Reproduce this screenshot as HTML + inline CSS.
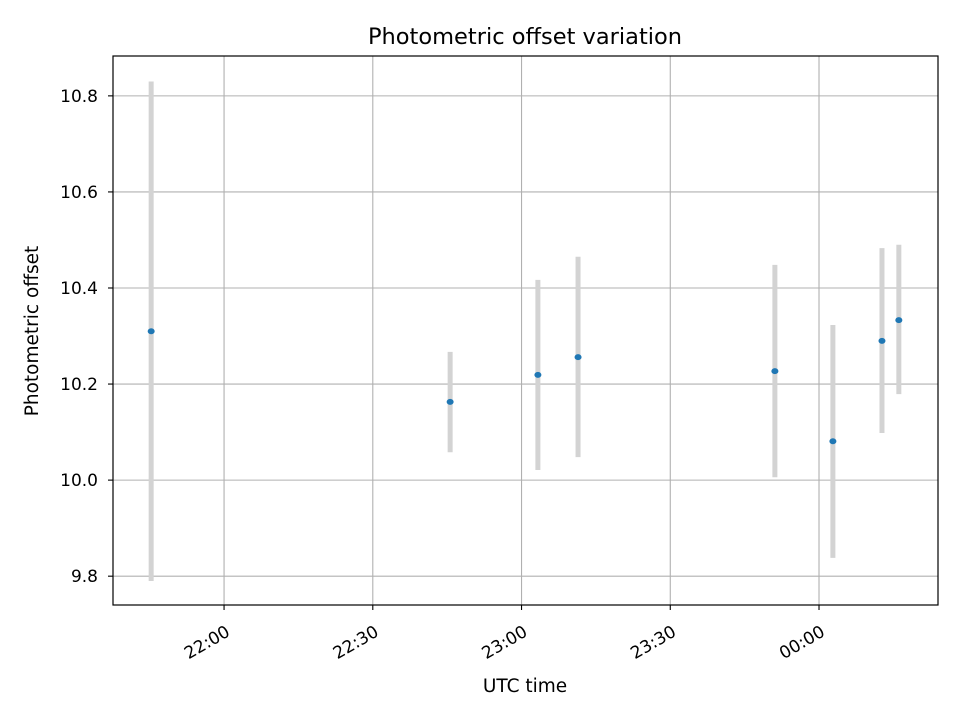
<!DOCTYPE html>
<html><head><meta charset="utf-8"><style>
body{margin:0;background:#fff;}
svg{display:block;font-family:"DejaVu Sans","Liberation Sans",sans-serif;}
</style></head><body>
<svg id="chart" width="960" height="720" viewBox="0 0 960 720">
<rect width="960" height="720" fill="#fff"/>
<text x="525" y="44" text-anchor="middle" font-size="22.5">Photometric offset variation</text>
<g id="grid"></g>
<g id="bars"></g>
<g id="points"></g>
<rect x="113" y="56" width="825" height="549" fill="none" stroke="#000" stroke-width="1.2"/>
<g id="xticks"></g>
<g id="yticks"></g>
<text x="525" y="692" text-anchor="middle" font-size="18.5">UTC time</text>
<text transform="translate(38,331) rotate(-90)" text-anchor="middle" font-size="18.5">Photometric offset</text>
</svg>
<script>
// minutes relative to 22:00 UTC
const times = [-14.7, 45.6, 63.3, 71.4, 111.1, 122.8, 132.7, 136.1];
const offsets = [10.31, 10.163, 10.219, 10.256, 10.227, 10.081, 10.29, 10.333];
const errLow = [9.79, 10.058, 10.021, 10.048, 10.006, 9.838, 10.098, 10.179];
const errHigh = [10.83, 10.267, 10.417, 10.465, 10.448, 10.323, 10.483, 10.490];
const xTickValues = [0, 30, 60, 90, 120];
const xTickLabels = ["22:00", "22:30", "23:00", "23:30", "00:00"];
const yTickValues = [9.8, 10.0, 10.2, 10.4, 10.6, 10.8];
const yTickLabels = ["9.8", "10.0", "10.2", "10.4", "10.6", "10.8"];

const L=113,R=938,T=56,B=605;
const xMin=-22.4,xMax=144.0,yMin=9.740,yMax=10.883;
const X=m=>L+(m-xMin)/(xMax-xMin)*(R-L);
const Y=v=>B-(v-yMin)/(yMax-yMin)*(B-T);
const NS="http://www.w3.org/2000/svg";
function mk(tag,attrs,parent){const e=document.createElementNS(NS,tag);for(const k in attrs)e.setAttribute(k,attrs[k]);document.getElementById(parent).appendChild(e);return e;}

xTickValues.forEach((v,i)=>{
  const x=X(v);
  const g=mk('line',{x1:x,x2:x,y1:T,y2:B,stroke:'#b0b0b0','stroke-width':1.1},'grid');
  
  
  const t=mk('line',{x1:x,x2:x,y1:B,y2:B+5,stroke:'#000','stroke-width':1.1},'xticks');
  
  
  const lb=mk('text',{transform:`translate(${x+7},${B+30}) rotate(-30)`,'text-anchor':'end','font-size':17},'xticks');
  lb.textContent=xTickLabels[i];
  
  
});
yTickValues.forEach((v,i)=>{
  const y=Y(v);
  const g=mk('line',{x1:L,x2:R,y1:y,y2:y,stroke:'#b0b0b0','stroke-width':1.1},'grid');
  
  
  const t=mk('line',{x1:L-5,x2:L,y1:y,y2:y,stroke:'#000','stroke-width':1.1},'yticks');
  
  
  const lb=mk('text',{x:L-15,y:y+6,'text-anchor':'end','font-size':17},'yticks');
  lb.textContent=yTickLabels[i];
  
  
});
times.forEach((m,i)=>{
  const x=X(m);
  const b=mk('line',{x1:x,x2:x,y1:Y(errHigh[i]),y2:Y(errLow[i]),stroke:'#d3d3d3','stroke-width':5},'bars');
  
  
  const p=mk('ellipse',{cx:x,cy:Y(offsets[i]),rx:3.5,ry:3,fill:'#1f77b4'},'points');
  
  
});
</script>
</body></html>
